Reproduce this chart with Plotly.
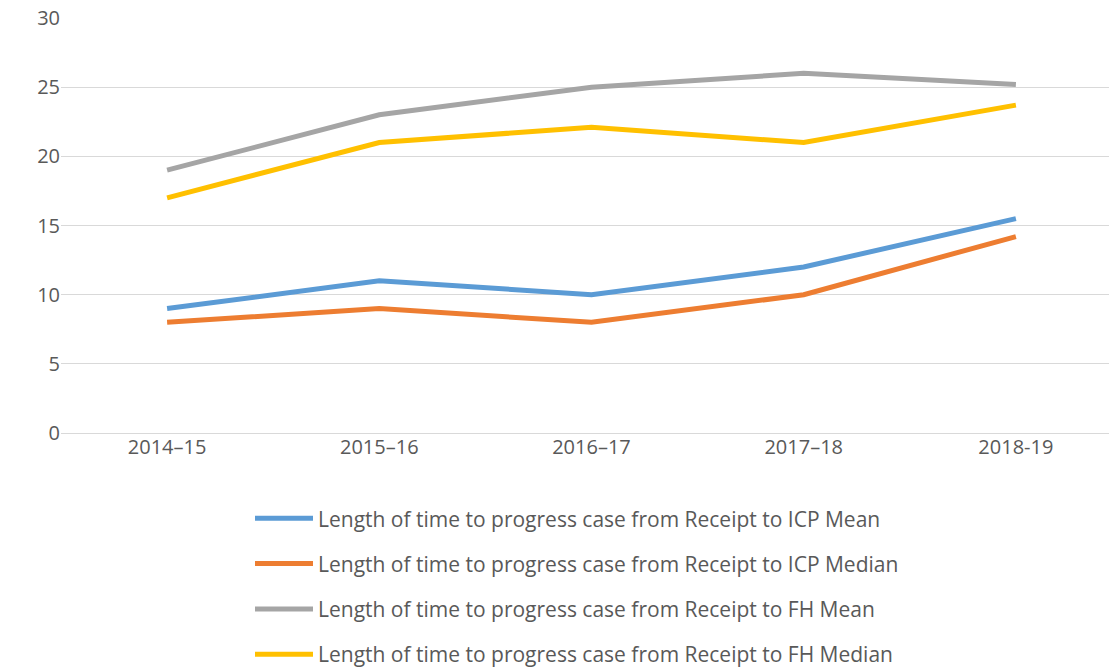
import plotly.graph_objects as go

years = ["2014–15", "2015–16", "2016–17", "2017–18", "2018-19"]
icp_mean = [9, 11, 10, 12, 15.5]
icp_median = [8, 9, 8, 10, 14.2]
fh_mean = [19, 23, 25, 26, 25.2]
fh_median = [17, 21, 22.1, 21, 23.7]

series = [
    ("Length of time to progress case from Receipt to ICP Mean", icp_mean, "#5B9BD5"),
    ("Length of time to progress case from Receipt to ICP Median", icp_median, "#ED7D31"),
    ("Length of time to progress case from Receipt to FH Mean", fh_mean, "#A5A5A5"),
    ("Length of time to progress case from Receipt to FH Median", fh_median, "#FFC000"),
]

fig = go.Figure()
for i, (name, vals, col) in enumerate(series):
    fig.add_trace(go.Scatter(x=years, y=vals, name=name, mode="lines",
                             line=dict(color=col, width=5), legendgroup=f"g{i}"))

W = 1122
L = 61
font = "'Open Sans', sans-serif"
fig.update_layout(
    width=W, height=667,
    margin=dict(l=L, r=0, t=18, b=234, autoexpand=False),
    plot_bgcolor="white", paper_bgcolor="white",
    font=dict(family=font, size=20, color="#595959"),
    showlegend=True,
    legend=dict(orientation="v", x=(250 - L) / (W - L), xanchor="left", y=-0.157, yanchor="top",
                font=dict(size=21, color="#595959"), tracegroupgap=15, itemwidth=58,
                bgcolor="rgba(0,0,0,0)"),
    xaxis=dict(range=[-0.5, 4.5], showgrid=False, showline=False, ticks="",
               tickfont=dict(size=20), automargin=False),
    yaxis=dict(range=[0, 30], dtick=5, showgrid=True, gridcolor="#D9D9D9", gridwidth=1.3,
               zeroline=True, zerolinecolor="#D9D9D9", zerolinewidth=1.3, showline=False,
               ticks="", tickfont=dict(size=20), automargin=False),
)
fig.write_html("out.html", config={"displayModeBar": False},
               post_script="document.body.style.margin='0';document.body.style.overflow='hidden';")
